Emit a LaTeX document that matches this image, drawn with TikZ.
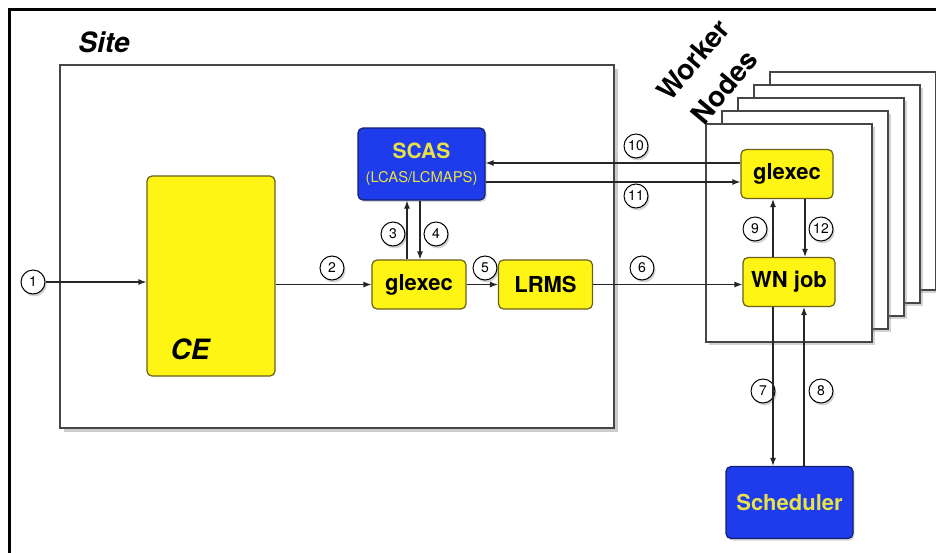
\documentclass[tikz,border=0pt]{standalone}
\usepackage{fontspec}
\setmainfont{TeX Gyre Heros}
\usepackage{xcolor}
\usetikzlibrary{arrows.meta, shadows, positioning}
\definecolor{myyellow}{RGB}{255,245,20}
\definecolor{myblue}{RGB}{30,60,235}
\definecolor{mytext}{RGB}{232,226,70}
\definecolor{myolive}{RGB}{105,95,25}
\definecolor{mynavy}{RGB}{20,30,110}
\definecolor{mygray}{RGB}{70,70,70}

\tikzset{
 ybox/.style={draw=myolive, line width=0.6pt, fill=myyellow, rounded corners=2.5pt,
   font=\bfseries\fontsize{11}{13}\selectfont, inner sep=0pt,
   minimum width=47pt, minimum height=24.5pt},
 bbox/.style={draw=mynavy, line width=0.6pt, fill=myblue, rounded corners=2.5pt,
   text=mytext, align=center, inner sep=0pt, minimum width=63.5pt, minimum height=36pt,
   drop shadow={shadow xshift=0.8pt, shadow yshift=-1pt, opacity=0.3}},
 num/.style={circle, draw=black, line width=0.5pt, fill=white, inner sep=0pt,
   minimum size=12pt, font=\fontsize{7}{8}\selectfont,
   drop shadow={shadow xshift=0.8pt, shadow yshift=-1.2pt, opacity=0.35}},
 arr/.style={-{Latex[length=4pt,width=3pt]}, line width=0.6pt, draw=black!85},
 page/.style={draw=mygray, line width=0.8pt, fill=white,
   drop shadow={shadow xshift=1.5pt, shadow yshift=-1.5pt, opacity=0.35}},
 title/.style={font=\bfseries\itshape\fontsize{14}{16}\selectfont},
 wntitle/.style={rotate=50, font=\bfseries\fontsize{14}{16}\selectfont}
}

\begin{document}
\begin{tikzpicture}[x=0.5pt, y=-0.5pt]
\useasboundingbox (0,0) rectangle (936,552);

%frame
\draw[line width=1.5pt] (9,560) -- (9,9) -- (940,9);

%site
\draw[draw=mygray, line width=1pt, fill=white,
  drop shadow={shadow xshift=2pt, shadow yshift=-2pt, opacity=0.4}] (60,65) rectangle (614,428);
\node[title] (sitelbl) at (104,42) {Site};

\node[ybox, minimum width=64pt, minimum height=100pt] (ce) at (211,276) {};
\node[title] (celbl) at (190,349) {CE};

\node[bbox] (scas) at (421.5,164) {{\bfseries\fontsize{10.5}{11}\selectfont SCAS}\\
  {\fontsize{7.4}{8}\selectfont (LCAS/LCMAPS)}};
\node[ybox] (glx) at (419,284.5) {glexec};
\node[ybox] (lrms) at (545.5,284.5) {LRMS};

%worker nodes
\foreach \i in {4,3,2,1,0}
  \draw[page] (706+16*\i,124-13*\i) rectangle ++(166,218);
\node[wntitle] (wlbl) at (693,60) {Worker};
\node[wntitle] (nlbl) at (724,87) {Nodes};

\node[ybox, minimum width=46pt] (wglx) at (787,174) {glexec};
\node[ybox, minimum width=46pt] (wnjob) at (789,282) {WN job};

\node[bbox, font=\bfseries\fontsize{11}{13}\selectfont] (sched) at (789.5,502.5) {Scheduler};

%numbers
\node[num] (n1) at (33,282) {1};
\node[num] (n2) at (332,268) {2};
\node[num] (n3) at (393,234) {3};
\node[num] (n4) at (436,234) {4};
\node[num] (n5) at (485,268) {5};
\node[num] (n6) at (642,268) {6};
\node[num] (n7) at (763,391) {7};
\node[num] (n8) at (821,391) {8};
\node[num] (n9) at (755,229) {9};
\node[num] (n10) at (636,146) {10};
\node[num] (n11) at (636,196) {11};
\node[num] (n12) at (821,229) {12};

%arrows
\draw[arr] (n1) -- (n1 -| ce.west);
\draw[arr] (ce.east |- glx.west) -- (glx.west);
\draw[arr] ([xshift=-6pt]glx.north) -- ([xshift=-6pt]glx.north |- scas.south);
\draw[arr] ([xshift=0.5pt]glx.north |- scas.south) -- ([xshift=0.5pt]glx.north);
\draw[arr] (glx) -- (lrms);
\draw[arr] (lrms.east) -- (lrms.east -| wnjob.west);
\draw[arr] ([yshift=5.5pt]wglx.west) -- ([yshift=5.5pt]wglx.west -| scas.east);
\draw[arr] ([yshift=-4pt]wglx.west -| scas.east) -- ([yshift=-4pt]wglx.west);
\draw[arr] ([xshift=-8pt]wnjob.north) -- ([xshift=-8pt]wnjob.north |- wglx.south);
\draw[arr] ([xshift=8pt]wnjob.north |- wglx.south) -- ([xshift=8pt]wnjob.north);
\draw[arr] ([xshift=-8pt]wnjob.south) -- ([xshift=-8pt]wnjob.south |- sched.north);
\draw[arr] ([xshift=7.5pt]wnjob.south |- sched.north) -- ([xshift=7.5pt]wnjob.south);

\end{tikzpicture}
\end{document}
